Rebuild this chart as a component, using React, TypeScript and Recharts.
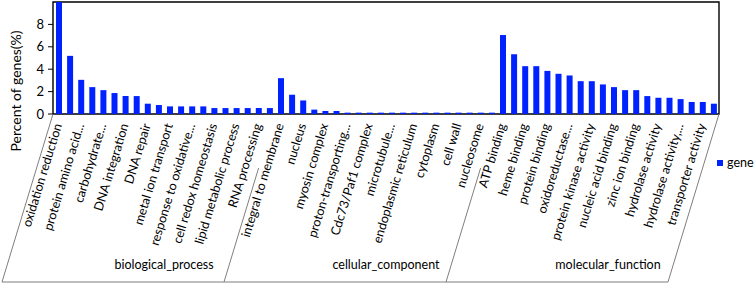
import React from 'react';
import { BarChart, Bar, XAxis, YAxis, ReferenceArea, Legend } from 'recharts';

const categories: string[] = [
  'oxidation reduction', 'proteolysis', 'protein amino acid...', 'transport', 'carbohydrate...',
  'regulation of transcription', 'DNA integration', 'signal transduction', 'DNA repair', 'translation',
  'metal ion transport', 'transmembrane transport', 'response to oxidative...', 'electron transport',
  'cell redox homeostasis', 'protein folding', 'lipid metabolic process', 'DNA replication',
  'RNA processing', 'microtubule-based process',
  'integral to membrane', 'membrane', 'nucleus', 'intracellular', 'myosin complex', 'ribosome',
  'proton-transporting...', 'mitochondrion', 'Cdc73/Paf1 complex', 'chloroplast', 'microtubule...',
  'Golgi apparatus', 'endoplasmic reticulum', 'plasma membrane', 'cytoplasm', 'vacuole', 'cell wall',
  'peroxisome', 'nucleosome', 'extracellular region',
  'ATP binding', 'catalytic activity', 'heme binding', 'DNA binding', 'protein binding',
  'iron ion binding', 'oxidoreductase...', 'electron carrier activity', 'protein kinase activity',
  'metal ion binding', 'nucleic acid binding', 'RNA binding', 'zinc ion binding', 'GTP binding',
  'hydrolase activity', 'transferase activity', 'hydrolase activity,...', 'monooxygenase activity',
  'transporter activity', 'calcium ion binding',
];

const geneValues: number[] = [
  10, 5.19, 3.05, 2.4, 2.13, 1.87, 1.6, 1.6, 0.92, 0.8,
  0.68, 0.68, 0.68, 0.68, 0.53, 0.53, 0.53, 0.53, 0.53, 0.53,
  3.2, 1.72, 1.21, 0.39, 0.27, 0.27, 0.12, 0.12, 0.12, 0.12,
  0.12, 0.12, 0.12, 0.12, 0.12, 0.12, 0.12, 0.12, 0.12, 0.12,
  7.05, 5.33, 4.27, 4.27, 3.85, 3.59, 3.44, 2.93, 2.93, 2.64,
  2.4, 2.13, 2.13, 1.6, 1.45, 1.45, 1.33, 1.07, 1.07, 0.92,
];

const groupNames: string[] = ['biological_process', 'cellular_component', 'molecular_function'];
const groupSizes: number[] = [20, 20, 20];
const yTicks: number[] = [0, 2, 4, 6, 8];
const seriesName = 'gene';
const yTitle = 'Percent of genes(%)';

const data = categories.map((c, i) => ({ category: c, value: geneValues[i] }));

const W = 754;
const H = 284;
const MARGIN = { top: 2, right: 35, left: 0, bottom: 0 };
const Y_W = 53;
const X_H = 170;
const PLOT_LEFT = MARGIN.left + Y_W;
const PLOT_W = W - MARGIN.right - PLOT_LEFT;
const BAND = PLOT_W / categories.length;
const FONT = "Lato, 'Open Sans', sans-serif";
const ANGLE = -73;
const DIV_H = 168;
const SLOPE = 51 / DIV_H;
const INNER_START = 54;

const groupStarts: number[] = [];
{
  let s = 0;
  for (const g of groupSizes) { groupStarts.push(s); s += g; }
}

const slantLine = (key: string, x0: number, y0: number, from: number) => (
  <line key={key} x1={x0 - from * SLOPE} y1={y0 + from} x2={x0 - DIV_H * SLOPE} y2={y0 + DIV_H}
    stroke="#7f7f7f" strokeWidth={1} />
);

const CatTick = (props: any) => {
  const { x, y, payload } = props;
  const i: number = payload.index;
  const els: React.ReactNode[] = [];
  if (i % 2 === 0) {
    const px = x + 3.5;
    const py = y + 11;
    els.push(
      <text key="t" x={px} y={py} transform={`rotate(${ANGLE}, ${px}, ${py})`} textAnchor="end"
        fontSize={12.6} fontFamily={FONT} fill="#000">{categories[i]}</text>
    );
  }
  const gi = groupStarts.indexOf(i);
  if (gi >= 0) {
    const xl = x - BAND / 2;
    const xr = xl + groupSizes[gi] * BAND;
    const shift = DIV_H * SLOPE;
    els.push(slantLine('dl', xl, y, gi === 0 ? 0 : INNER_START));
    els.push(<line key="bl" x1={xl - shift} y1={y + DIV_H} x2={xr - shift} y2={y + DIV_H} stroke="#7f7f7f" strokeWidth={1} />);
    els.push(
      <text key="g" x={(xl + xr) / 2} y={y + 155} textAnchor="middle" fontSize={12.5} fontFamily={FONT} fill="#000">
        {groupNames[gi]}
      </text>
    );
    if (gi === groupSizes.length - 1) {
      els.push(slantLine('dr', xr, y, 0));
    }
  }
  return <g>{els}</g>;
};

const renderLegend = (props: any) => {
  const items = props.payload || [];
  return (
    <div style={{ fontFamily: FONT, fontSize: 12.5, color: '#000', lineHeight: '15px' }}>
      {items.map((it: any) => (
        <div key={it.value} style={{ display: 'flex', alignItems: 'center' }}>
          <span style={{ display: 'inline-block', width: 6, height: 6, background: it.color, marginRight: 4 }} />
          <span>{it.value}</span>
        </div>
      ))}
    </div>
  );
};

export default function App() {
  return (
    <div style={{ position: 'absolute', left: 0, top: 0, width: W, height: H, background: '#fff' }}>
      <BarChart width={W} height={H} data={data} margin={MARGIN} barSize={6}>
        <XAxis dataKey="category" height={X_H} interval={0} axisLine={false} tickLine={false}
          tickSize={0} tickMargin={0} tick={<CatTick />} />
        <YAxis width={Y_W} domain={[0, 10]} ticks={yTicks} allowDataOverflow axisLine={false}
          tickLine={{ stroke: '#000' }} tickSize={5} tickMargin={4}
          tick={{ fontSize: 13, fontFamily: FONT, fill: '#000' }}
          label={({ viewBox }: any) => (
            <text transform={`translate(15, 91) rotate(-90)`} textAnchor="middle" dominantBaseline="central"
              fontSize={14} fontFamily={FONT} fill="#000">{yTitle}</text>
          )} />
        <ReferenceArea y1={0} y2={10} fill="none" stroke="#000" strokeWidth={1.4} ifOverflow="visible" />
        <Bar dataKey="value" name={seriesName} fill="#0022ff" isAnimationActive={false} />
        <Legend content={renderLegend} layout="horizontal" verticalAlign="middle" align="center"
          wrapperStyle={{ position: 'absolute', left: 717, top: 155, width: 40 }} />
      </BarChart>
    </div>
  );
}
